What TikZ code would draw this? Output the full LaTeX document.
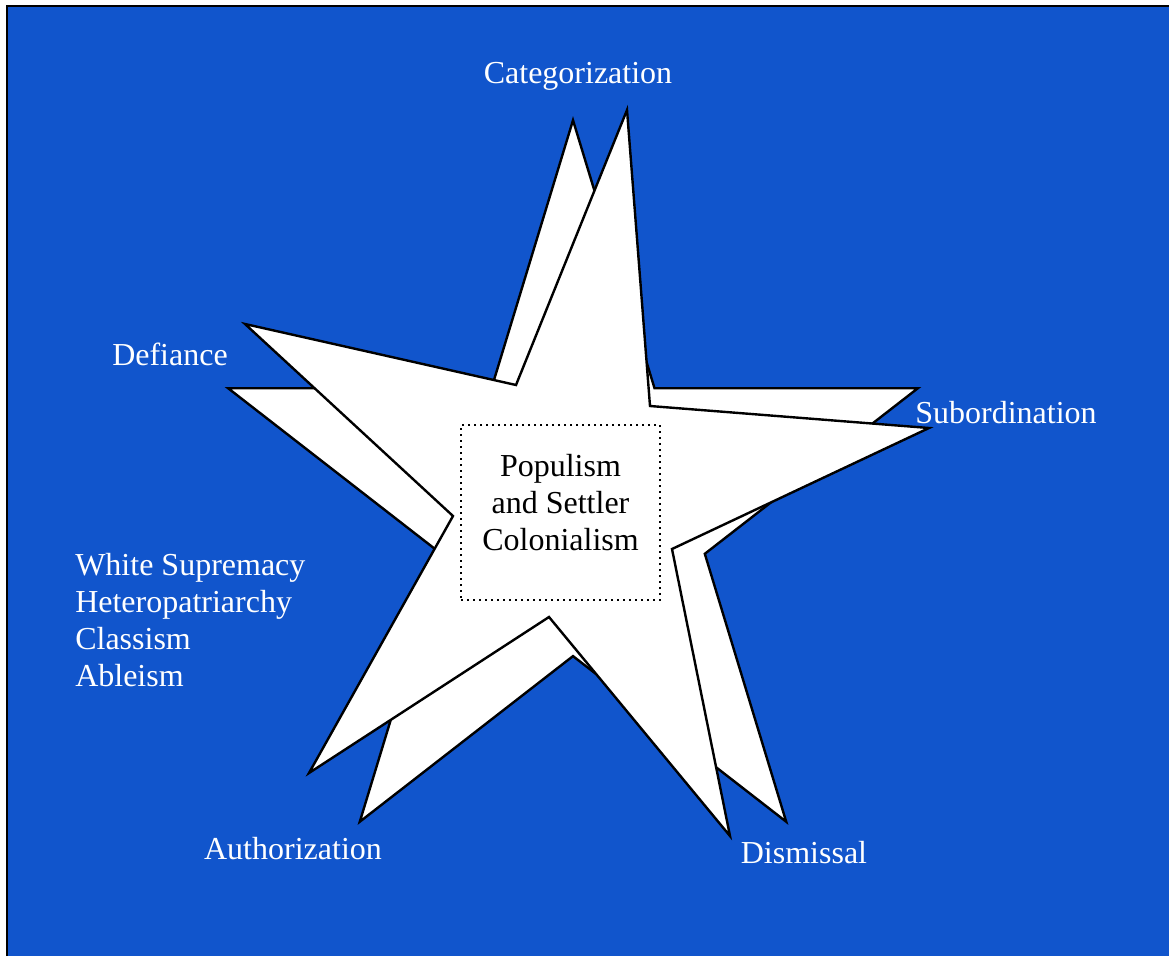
\documentclass[tikz,border=0pt]{standalone}
\usepackage{fontspec}
\setmainfont{Liberation Serif}
\usetikzlibrary{positioning}
\definecolor{slideblue}{RGB}{17,85,204}

\begin{document}
\begin{tikzpicture}[x=0.75pt,y=-0.75pt,
    star/.style={draw=black,fill=white,line width=1.8pt,line join=miter},
    label/.style={text=white,font=\fontsize{24}{27.6}\selectfont,inner sep=0pt},
    core/.style={draw=black,line width=1.2pt,dash pattern=on 1.2pt off 3.3pt,fill=white,
        minimum width=199*0.75pt,minimum height=175*0.75pt},
    title/.style={align=center,inner sep=0pt,font=\fontsize{24}{27.6}\selectfont}]
   \useasboundingbox (0,0) rectangle (1169,956);
   % slide background
   \fill[slideblue] (8,7) rectangle (1169,956);
   \draw[line width=1.5pt] (7,956) -- (7,6) -- (1169,6);

   % back star, upright
   \draw[star] (573,120.2) -- (654.5,388.2) -- (917.9,388.2) -- (704.8,553.8)
      -- (786.2,821.7) -- (573,656.1) -- (359.8,821.7) -- (441.2,553.8)
      -- (228.1,388.2) -- (491.5,388.2) -- cycle;
   % front star, turned a little
   \draw[star] (627,110) -- (650,406) -- (929,428) -- (672,549) -- (730,836)
      -- (549,617) -- (309,773) -- (453,516) -- (245,324) -- (516,385) -- cycle;

   \node[core] (centre) at (560.5,512.5) {};
   \node[title] (theme) at ([yshift=7.5pt]centre.center) {Populism\\and Settler\\Colonialism};

   \node[label,anchor=base] (cat) at (578,84) {Categorization};
   \node[label,anchor=base] (sub) at (1006,423) {Subordination};
   \node[label,anchor=base] (dis) at (804,863) {Dismissal};
   \node[label,anchor=base] (aut) at (293,859) {Authorization};
   \node[label,anchor=base] (def) at (170,365) {Defiance};
   \node[label,anchor=base west,align=left] (isms) at (75,686)
      {White Supremacy\\Heteropatriarchy\\Classism\\Ableism};
\end{tikzpicture}
\end{document}
